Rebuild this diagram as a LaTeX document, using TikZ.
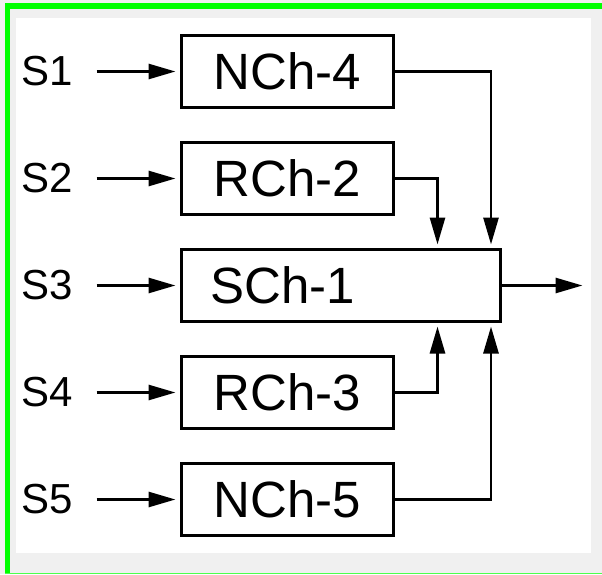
\documentclass[tikz,border=0pt]{standalone}
\usepackage{fontspec}
\setmainfont{Liberation Sans}
\usetikzlibrary{arrows.meta,positioning,calc}
\definecolor{panel}{RGB}{240,240,240}
\definecolor{frameg}{RGB}{0,255,0}
\tikzset{ch/.style={draw=black,line width=2.9pt,fill=white,minimum width=212pt,minimum height=72pt,inner sep=0pt,outer sep=0pt,font=\fontsize{51}{60}\selectfont},wide/.style={ch,text width=261pt,inner xsep=29pt,align=left},lbl/.style={inner sep=0pt,font=\fontsize{42}{50}\selectfont},flow/.style={-{Triangle[length=27pt,width=15pt]},line width=2.8pt,draw=black}}

\begin{document}
\begin{tikzpicture}[x=1pt,y=1pt,node distance=35pt]
\useasboundingbox (0,0) rectangle (602,574);
\fill[panel] (0,0) rectangle (602,574);
\fill[white] (16,21) rectangle (591,556);
\draw[frameg,line width=5.5pt] (5,567.8) -- (602,567.8);
\draw[frameg,line width=5pt] (7.7,0) -- (7.7,570.5);
\draw[frameg!70,line width=1.2pt] (5,0.6) -- (602,0.6);
% channel blocks
\node[ch] (nch4) at (287.5,502.5) {NCh-4};
\node[ch,below=of nch4] (rch2) {RCh-2};
\node[wide,below right=35pt and 0pt of rch2.south west] (sch1) {SCh-1};
\node[ch,below right=35pt and 0pt of sch1.south west] (rch3) {RCh-3};
\node[ch,below=of rch3] (nch5) {NCh-5};
% sources
\node[lbl,left=108pt of nch4] (in1) {S1};
\node[lbl,left=108pt of rch2] (in2) {S2};
\node[lbl,left=108pt of sch1] (in3) {S3};
\node[lbl,left=108pt of rch3] (in4) {S4};
\node[lbl,left=108pt of nch5] (in5) {S5};
\foreach \a/\b in {in1/nch4,in2/rch2,in3/sch1,in4/rch3,in5/nch5}
  \draw[flow,shorten <=23pt,shorten >=6pt] (\a.east) -- (\b.west);
% merging into SCh-1
\draw[flow,shorten >=5pt] (nch4.east) -| ([xshift=-9.5pt]sch1.north east);
\draw[flow,shorten >=5pt] (rch2.east) -| ([xshift=-63pt]sch1.north east);
\draw[flow,shorten >=5pt] (rch3.east) -| ([xshift=-63pt]sch1.south east);
\draw[flow,shorten >=5pt] (nch5.east) -| ([xshift=-9.5pt]sch1.south east);
\coordinate (out) at ([xshift=82pt]sch1.east);
\draw[flow] (sch1.east) -- (out);
\end{tikzpicture}
\end{document}
